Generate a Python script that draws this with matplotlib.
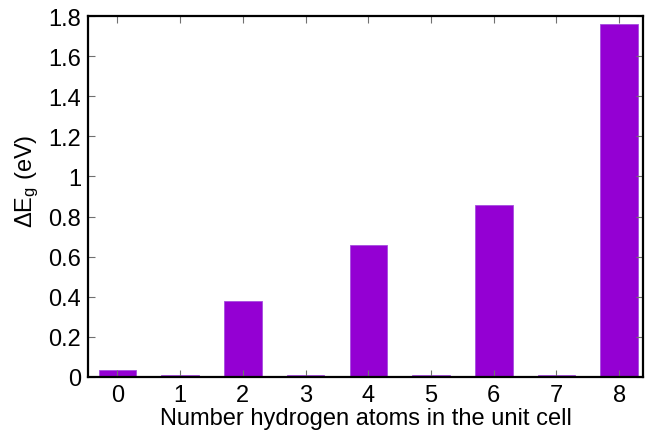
import numpy as np
import matplotlib
matplotlib.use('Agg')
from matplotlib import pyplot as plt

plt.rcParams['font.family'] = ['Liberation Sans', 'DejaVu Sans']
plt.rcParams['mathtext.fontset'] = 'custom'
plt.rcParams['mathtext.rm'] = 'Liberation Sans'
plt.rcParams['mathtext.it'] = 'Liberation Sans:italic'

nHydrogen = [0, 1, 2, 3, 4, 5, 6, 7, 8]
deltaEg = [0.035, 0.01, 0.38, 0.01, 0.66, 0.01, 0.86, 0.01, 1.76]
yTicks = [0, 0.2, 0.4, 0.6, 0.8, 1, 1.2, 1.4, 1.6, 1.8]
yTickLabels = ['0', '0.2', '0.4', '0.6', '0.8', '1', '1.2', '1.4', '1.6', '1.8']

fig = plt.figure(figsize=(6.48, 4.39), dpi=100)
ax = fig.add_axes([88/648, 1-378/439, (643-88)/648, (378-17)/439])

ax.bar(nHydrogen, deltaEg, width=0.6, color='#9400d3', edgecolor='#a64ddf', linewidth=0.6, zorder=1)

ax.set_xlim(-0.47, 8.38)
ax.set_ylim(0, 1.8)
ax.set_xticks(nHydrogen)
ax.set_yticks(yTicks)
ax.set_yticklabels(yTickLabels)
ax.tick_params(direction='in', length=5, width=0.8, color='#707070', labelsize=17,
               top=True, right=True, pad=5)
for sp in ax.spines.values():
    sp.set_linewidth(1.6)
    sp.set_zorder(3)

ax.set_xlabel('Number hydrogen atoms in the unit cell', fontsize=17, labelpad=1)
ax.set_ylabel(r'$\Delta$E$_\mathrm{g}$ (eV)', fontsize=17)
ax.yaxis.set_label_coords(-0.085, 0.545)

fig.savefig('out.png', dpi=100)
